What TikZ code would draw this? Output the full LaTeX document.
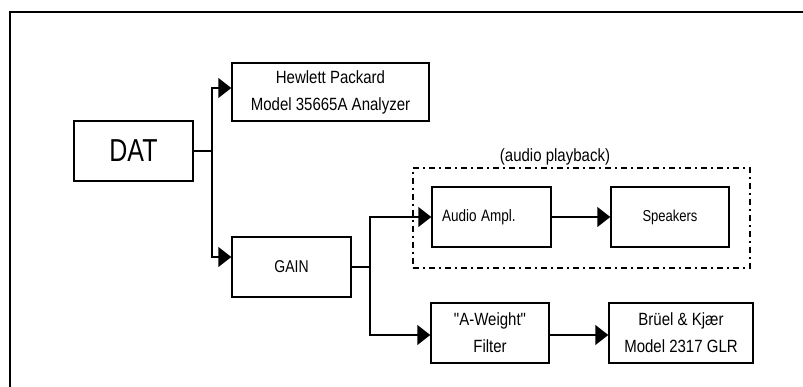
\documentclass[tikz,border=0pt]{standalone}
\usepackage{fontspec}
\setmainfont{Liberation Sans}
\usetikzlibrary{arrows.meta}
\newcommand\vstr[2][1.18]{\scalebox{1}[#1]{#2}}
\begin{document}
\begin{tikzpicture}[x=1pt,y=-1pt,
  box/.style={draw, line width=1.5pt, rectangle, inner sep=0pt, align=center, minimum height=60pt},
  conn/.style={line width=1.5pt},
  arr/.style={conn, -{Triangle[length=13pt,width=20pt]}},
  txt/.style={font=\fontsize{15}{27}\selectfont},
  grpbox/.style={draw, line width=1.5pt, dash pattern=on 6pt off 4pt on 2pt off 4pt, inner sep=0pt},
  ]
\useasboundingbox (0,0) rectangle (803,387);
% frame
\draw[line width=1.5pt] (10,392) -- (10,12) -- (808,12);

\node[box, minimum width=119pt, font=\fontsize{25}{30}\selectfont] (dat) at (133.5,151) {\vstr[1.27]{DAT}};
\node[box, txt, minimum width=197pt, minimum height=58pt] (hp) at (330.5,92) {\vstr{Hewlett Packard}\\\vstr{Model 35665A Analyzer}};
\node[box, minimum width=119pt, font=\fontsize{14}{20}\selectfont] (gain) at (291.5,267) {\vstr[1.22]{GAIN}};
\node[grpbox, minimum width=337pt, minimum height=100pt] (grp) at (581.5,218) {};
\node[txt, inner sep=0pt] (grplabel) at (555,157) {\vstr{(audio playback)}};
\node[box, font=\fontsize{13.5}{20}\selectfont, text width=99pt, inner xsep=10pt, align=left] (amp) at (491.5,217) {\vstr[1.22]{Audio Ampl.}};
\node[box, minimum width=118pt, font=\fontsize{13}{20}\selectfont] (spk) at (670,217) {\vstr[1.22]{Speakers}};
\node[box, txt, minimum width=118pt] (flt) at (490,333) {\vstr{\textquotedbl A-Weight\textquotedbl}\\\vstr{Filter}};
\node[box, txt, minimum width=144pt] (bk) at (681,333) {\vstr{Brüel \& Kjær}\\\vstr{Model 2317 GLR}};

\coordinate (s1) at (212,151);
\coordinate (s2) at (370,267);
\draw[conn] (dat.east) -- (s1);
\draw[arr] (s1) |- ([yshift=4pt]hp.west);
\draw[arr] (s1) |- ([yshift=10pt]gain.west);
\draw[conn] (gain.east) -- (s2);
\draw[arr] (s2) |- (amp.west);
\draw[arr] (s2) |- ([yshift=-2pt]flt.west);
\draw[arr] (amp.east) -- (spk.west);
\draw[arr] ([yshift=-2pt]flt.east) -- ([yshift=-2pt]bk.west);
\end{tikzpicture}
\end{document}
